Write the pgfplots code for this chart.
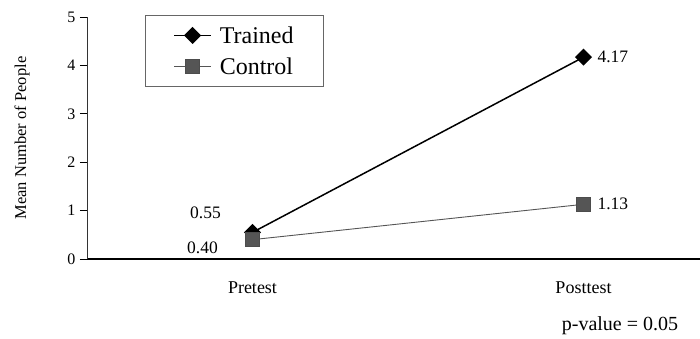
\documentclass[border=0pt]{standalone}
\usepackage{fontspec}
\setmainfont{Liberation Serif}
\usepackage{pgfplots}
\pgfplotsset{compat=1.18}
\definecolor{ctrl}{HTML}{555555}
\begin{document}
\begin{tikzpicture}[x=1pt,y=1pt]
\useasboundingbox (0,0) rectangle (700,339);
\begin{axis}[
  at={(87pt,80pt)}, anchor=south west,
  scale only axis, width=613pt, height=242pt,
  xmin=-0.5, xmax=1.352, ymin=0, ymax=5,
  axis x line*=bottom, axis y line*=left,
  axis line style={-},
  x axis line style={line width=1.3pt},
  y axis line style={line width=0.6pt, black!80},
  xtick={0,1}, xticklabels={Pretest,Posttest},
  x tick style={draw=none},
  ytick={0,1,2,3,4,5},
  y tick style={black, line width=0.6pt},
  tick align=outside, major tick length=7pt,
  /pgf/number format/assume math mode=true,
  yticklabel style={font=\fontsize{16}{19}\selectfont, xshift=-1pt},
  xticklabel style={font=\fontsize{18}{21}\selectfont, yshift=-12pt},
  ylabel={Mean Number of People},
  ylabel style={font=\fontsize{16.5}{19}\selectfont, at={(axis description cs:-0.106,0.5)}, anchor=center},
  legend style={at={(rel axis cs:0.0946,1.008)}, anchor=north west,
    draw=black!60, line width=0.6pt, font=\fontsize{24}{26}\selectfont,
    inner xsep=28pt, inner ysep=9pt, row sep=9pt, column sep=6pt,
    minimum width=0pt},
  legend cell align=left,
  legend image code/.code={\draw[mark repeat=2,mark phase=2,#1] plot coordinates {(0pt,0pt) (18.5pt,0pt) (37pt,0pt)};},
  clip=false,
]
\addplot[black, line width=1.5pt, mark=square*, mark size=5.3pt, mark options={rotate=45, solid, fill=black}]
  coordinates {(0,0.55) (1,4.17)};
\addlegendentry{Trained}
\addplot[ctrl, line width=0.9pt, mark=square*, mark size=7pt, mark options={solid, fill=ctrl, draw=black!70}]
  coordinates {(0,0.40) (1,1.13)};
\addlegendentry{Control}
\node[font=\fontsize{17.5}{20}\selectfont] at (axis cs:-0.142,0.95) {0.55};
\node[font=\fontsize{17.5}{20}\selectfont] at (axis cs:-0.151,0.227) {0.40};
\node[font=\fontsize{17.5}{20}\selectfont, anchor=west, inner sep=0pt] at (axis cs:1.042,4.17) {4.17};
\node[font=\fontsize{17.5}{20}\selectfont, anchor=west, inner sep=0pt] at (axis cs:1.042,1.13) {1.13};
\end{axis}
\node[font=\fontsize{20}{22}\selectfont] at (620,13) {p-value = 0.05};
\end{tikzpicture}
\end{document}
